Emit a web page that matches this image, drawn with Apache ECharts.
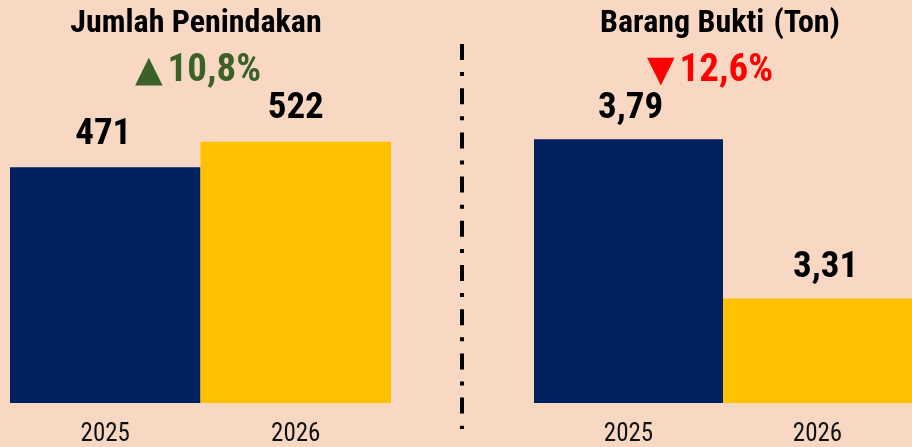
<!DOCTYPE html>
<html>
<head>
<meta charset="utf-8">
<script src="https://cdn.jsdelivr.net/npm/echarts@6/dist/echarts.min.js"></script>
<style>
html,body{margin:0;padding:0;background:#F8D8C3;}
#c{width:912px;height:447px;}
</style>
</head>
<body>
<div id="c"></div>
<script>
// ---- data ----
const categories = ['2025', '2026'];
const penindakan = [471, 522];
const barangBukti = [3.79, 3.31];
const penindakanChange = '10,8%';
const barangBuktiChange = '12,6%';
const barColors = ['#002060', '#FFC000'];

const FONT = "'Roboto Condensed', 'Liberation Sans', sans-serif";
const SYM = "'DejaVu Sans', sans-serif";

function barData(values, labelOffsets) {
  return values.map((v, i) => ({
    value: v,
    itemStyle: { color: barColors[i] },
    label: { offset: labelOffsets[i] }
  }));
}

const labelBase = {
  show: true, position: 'top',
  fontFamily: FONT, fontSize: 37, fontWeight: 'bold', color: '#000'
};
const axisLabelStyle = { fontFamily: FONT, fontSize: 25, color: '#111', margin: 19 };

const chart = echarts.init(document.getElementById('c'), null, { renderer: 'canvas' });
chart.setOption({
  backgroundColor: '#F8D8C3',
  animation: false,
  title: [
    { text: 'Jumlah Penindakan', left: 196, top: 8, textAlign: 'center', padding: 0,
      textStyle: { fontFamily: FONT, fontSize: 32, fontWeight: 'bold', color: '#000' } },
    { text: '{t|▲}{v|' + penindakanChange + '}', left: 198, top: 52, textAlign: 'center', padding: 0,
      textStyle: { rich: {
        t: { fontFamily: SYM, fontSize: 36, color: '#3B6128', padding: [0, 5, 0, 0] },
        v: { fontFamily: FONT, fontSize: 39, fontWeight: 'bold', color: '#3B6128' } } } },
    { text: '{b|Barang Bukti} {r|(Ton)}', left: 720, top: 8, textAlign: 'center', padding: 0,
      textStyle: { rich: {
        b: { fontFamily: FONT, fontSize: 32, fontWeight: 'bold', color: '#000' },
        r: { fontFamily: FONT, fontSize: 32, color: '#000', padding: [0, 0, 0, 4] } } } },
    { text: '{t|▼}{v|' + barangBuktiChange + '}', left: 710, top: 52, textAlign: 'center', padding: 0,
      textStyle: { rich: {
        t: { fontFamily: SYM, fontSize: 36, color: '#FF0000', padding: [0, 5, 0, 0] },
        v: { fontFamily: FONT, fontSize: 39, fontWeight: 'bold', color: '#FF0000' } } } }
  ],
  grid: [
    { left: 10, top: 0, width: 381, height: 404.5 },
    { left: 534, top: 0, width: 381, height: 404.5 }
  ],
  xAxis: [
    { type: 'category', gridIndex: 0, data: categories,
      axisLine: { show: false }, axisTick: { show: false }, axisLabel: axisLabelStyle },
    { type: 'category', gridIndex: 1, data: categories,
      axisLine: { show: false }, axisTick: { show: false }, axisLabel: axisLabelStyle }
  ],
  yAxis: [
    { type: 'value', gridIndex: 0, min: 0, max: 805, show: false },
    { type: 'value', gridIndex: 1, min: 2.995, max: 4.21, show: false }
  ],
  series: [
    { type: 'bar', xAxisIndex: 0, yAxisIndex: 0, data: barData(penindakan, [[-2, 0], [0, 0]]),
      barCategoryGap: '0%', label: Object.assign({}, labelBase, { distance: 14 }) },
    { type: 'bar', xAxisIndex: 1, yAxisIndex: 1, data: barData(barangBukti, [[2, 0], [8, 0]]),
      barCategoryGap: '0%',
      label: Object.assign({}, labelBase, { distance: 12,
        formatter: p => p.value.toFixed(2).replace('.', ',') }) }
  ],
  graphic: [
    { type: 'line', shape: { x1: 462, y1: 44, x2: 462, y2: 429 },
      style: { stroke: '#000', lineWidth: 4, lineDash: [16, 12.1, 4, 12.1] } }
  ]
});
</script>
</body>
</html>
